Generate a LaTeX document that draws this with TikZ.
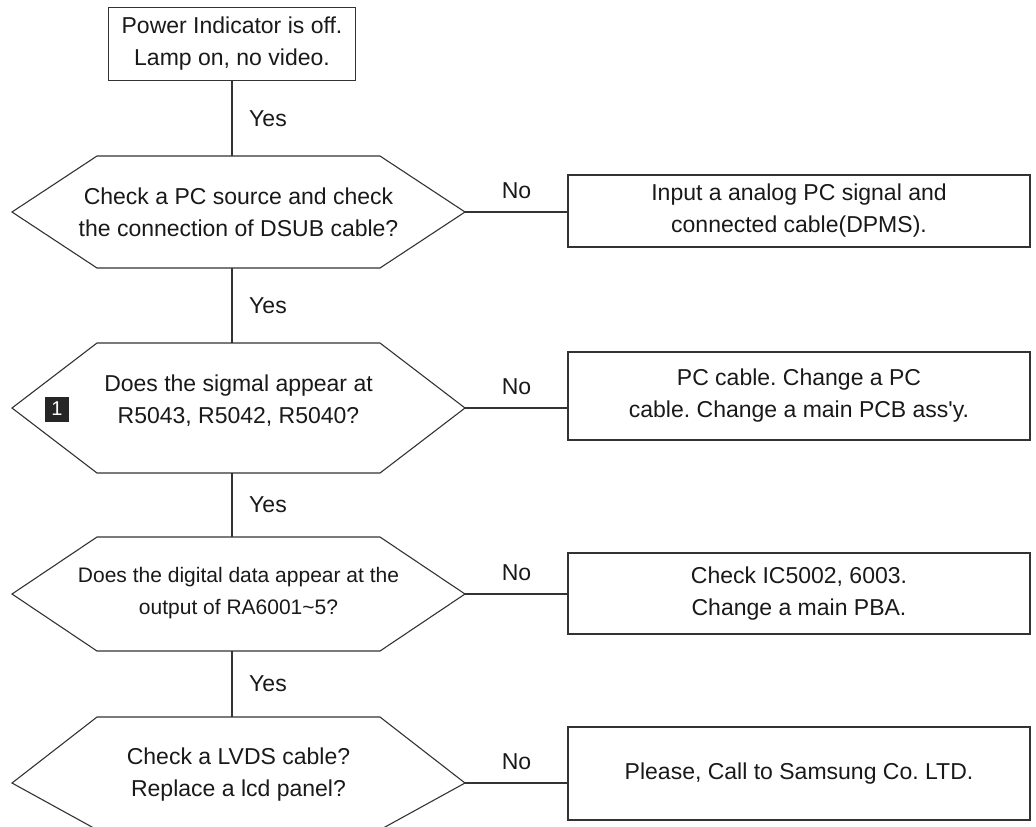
\documentclass[tikz,border=0pt]{standalone}
\usepackage{fontspec}
\setmainfont{Liberation Sans}
\usepackage{xcolor}
\usepackage{tikz}
\usetikzlibrary{calc}
\frenchspacing
% outline of a decision node: node name, top corner cut, bottom corner cut
\newcommand{\hexoutline}[3]{%
  \draw[wire] (#1.west) -- ($(#1.north west)+(#2,0)$) -- ($(#1.north east)-(#2,0)$) -- (#1.east)
    -- ($(#1.south east)-(#3,0)$) -- ($(#1.south west)+(#3,0)$) -- cycle;}

\begin{document}
\begin{tikzpicture}[x=0.5pt,y=-0.5pt,font=\fontsize{11.5}{16}\selectfont,
  wire/.style={draw=black!80,line width=0.55pt},
  fixbox/.style={wire,rectangle,align=center,inner sep=0pt,outer sep=0pt,text=black!90},
  hexnode/.style={rectangle,inner sep=0pt,outer sep=0pt,minimum width=226.5pt},
  hextext/.style={align=center,inner sep=0pt,text=black!90},
  yes/.style={anchor=west,xshift=5pt,text=black!90},
  no/.style={anchor=south,yshift=3pt,text=black!90},
  badge/.style={fill=black!85,text=white,minimum width=12pt,minimum height=12.5pt,inner sep=0pt,font=\fontsize{10}{10}\selectfont}]
\useasboundingbox (0,0) rectangle (1036,826);
\clip (0,0) rectangle (1036,826);
\node[fixbox,minimum width=123.5pt,minimum height=36.5pt] (start) at (232,44) {Power Indicator is off.\\Lamp on, no video.};
\foreach \i/\hy/\hh/\fs/\ty/\by/\bh/\q/\a in {
  1/212/56pt/11.5/0pt/211/36pt/{Check a PC source and check\\the connection of DSUB cable?}/{Input a analog PC signal and\\connected cable(DPMS).},
  2/408/65pt/11.5/3.5pt/396/44pt/{Does the sigmal appear at\\R5043, R5042, R5040?}/{PC cable. Change a PC\\cable. Change a main PCB ass\textquotesingle y.},
  3/594/57pt/10.5/0.5pt/593.5/40.5pt/{Does the digital data appear at the\\output of RA6001\textasciitilde5?}/{Check IC5002, 6003.\\Change a main PBA.},
  4/783/66pt/11.5/4pt/773.5/46.5pt/{Check a LVDS cable?\\Replace a lcd panel?}/{Please, Call to Samsung Co. LTD.}}{
  \node[hexnode,minimum height=\hh] (hex\i) at (238.5,\hy) {};
  \node[hextext,font=\fontsize{\fs}{16}\selectfont,yshift=\ty] (q\i) at (hex\i) {\q};
  \node[fixbox,minimum height=\bh,minimum width=231pt] (fix\i) at (799,\by) {\a};
  \draw[wire] (hex\i.east) -- node[no] {No} (hex\i.east -| fix\i.west);
}
\hexoutline{hex1}{85}{85}
\hexoutline{hex2}{85}{85}
\hexoutline{hex3}{85}{85}
\hexoutline{hex4}{85}{120}
\node[badge] (mark1) at (57,409) {1};
\draw[wire] (start.south) -- node[yes] {Yes} (hex1.north -| start.south);
\foreach \a/\b in {1/2,2/3,3/4}{
  \draw[wire] (hex\a.south -| start) -- node[yes] {Yes} (hex\b.north -| start);
}
\end{tikzpicture}
\end{document}
